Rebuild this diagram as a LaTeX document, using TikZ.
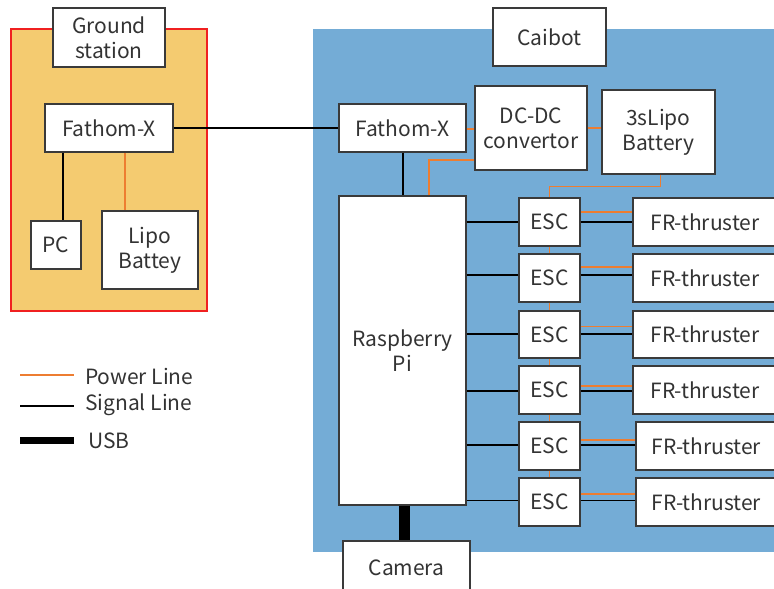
\documentclass[tikz,border=0pt]{standalone}
\usepackage{fontspec}
\setmainfont{Noto Sans CJK JP}
\definecolor{pwrc}{HTML}{ED7D31}
\definecolor{bluefill}{HTML}{74ACD6}
\definecolor{gsfill}{HTML}{F4CB70}
\definecolor{edgec}{HTML}{3A3A3A}
\definecolor{txtc}{HTML}{333333}
\definecolor{gsborder}{HTML}{F02020}
\tikzset{
  box/.style={draw=edgec, line width=1.3pt, fill=white, inner sep=0pt, align=center,
    text=txtc, font=\fontsize{21}{25}\selectfont},
  pwr/.style={draw=pwrc, line width=1.4pt},
  sig/.style={draw=black, line width=1.4pt},
  usb/.style={draw=black, line width=7pt},
  legtext/.style={anchor=west, inner sep=0pt, text=txtc, font=\fontsize{21}{25}\selectfont},
}
\newcommand\bnode[6]{%
  \pgfmathsetmacro\bw{#4-#2}\pgfmathsetmacro\bh{#5-#3}%
  \node[box,minimum width=\bw pt,minimum height=\bh pt] (#1) at ({(#2+#4)/2},{(#3+#5)/2}) {#6};}
\begin{document}
\begin{tikzpicture}[x=1pt,y=-1pt]
\clip (0,0) rectangle (774,589);
\useasboundingbox (0,0) rectangle (774,589);
% ground station area
\node[draw=gsborder, line width=1.2pt, fill=gsfill, minimum width=196pt, minimum height=282pt, inner sep=0pt] (gs) at (109,170) {};
% caibot area
\node[draw=none, fill=bluefill, minimum width=470pt, minimum height=523pt, inner sep=0pt] (cb) at (548,290.5) {};
% labels
\bnode{gslabel}{53}{8}{165}{67}{Ground\\station}
\bnode{cblabel}{493}{8}{606}{66}{Caibot}
% ground station nodes
\bnode{fxl}{45}{104}{173}{152}{Fathom-X}
\bnode{pc}{31}{221}{81}{269}{PC}
\bnode{lipo}{102}{211}{198}{289}{Lipo\\Battey}
% caibot nodes
\bnode{fxr}{339}{104}{466}{152}{Fathom-X}
\bnode{dcdc}{475}{86}{587}{170}{DC-DC\\convertor}
\bnode{bat}{602}{90}{715}{174}{3sLipo\\Battery}
\bnode{rpi}{339}{196}{466}{505}{Raspberry\\Pi}
\bnode{cam}{343}{541}{470}{595}{Camera}
\bnode{esca}{519}{198}{580}{246}{ESC}
\bnode{escb}{519}{254}{580}{302}{ESC}
\bnode{escc}{519}{311}{580}{358}{ESC}
\bnode{escd}{519}{366}{580}{414}{ESC}
\bnode{esce}{519}{422}{580}{470}{ESC}
\bnode{escf}{519}{478}{580}{526}{ESC}
\bnode{fra}{633}{198}{777}{246}{FR-thruster}
\bnode{frb}{633}{254}{777}{302}{FR-thruster}
\bnode{frc}{633}{311}{777}{358}{FR-thruster}
\bnode{frd}{633}{366}{777}{414}{FR-thruster}
\bnode{fre}{636}{422}{777}{470}{FR-thruster}
\bnode{frf}{636}{478}{777}{526}{FR-thruster}
% ground station connectors
\draw[sig] (fxl.east) -- (fxr.west);
\draw[sig] ([xshift=-46pt]fxl.south) -- ([xshift=-46pt]fxl.south |- pc.north);
\draw[pwr] ([xshift=16pt]fxl.south) -- ([xshift=16pt]fxl.south |- lipo.north);
% caibot connectors
\draw[pwr] ([yshift=-1pt]fxr.east) -- ([yshift=-1pt]fxr.east -| dcdc.west);
\draw[pwr] (dcdc.east) -- (dcdc.east -| bat.west);
\draw[pwr] ([yshift=-32pt]dcdc.west) -| ([xshift=26.5pt]rpi.north);
\draw[sig] ([xshift=0.5pt]fxr.south) -- ([xshift=0.5pt]fxr.south |- rpi.north);
\draw[usb, line width=11pt] ([xshift=1.5pt]rpi.south) -- ([xshift=1.5pt]rpi.south |- cam.north);
\draw[pwr] ([xshift=2pt]bat.south) |- ++(0,12) -| (esca.north);
\draw[pwr] (esca.south) -- (escb.north);
\draw[pwr] (escb.south) -- (escc.north);
\draw[pwr] (escc.south) -- (escd.north);
\draw[pwr] (escd.south) -- (esce.north);
\draw[pwr] (esce.south) -- (escf.north);
\foreach \e/\f/\o/\s in {esca/fra/10/0, escb/frb/11/3, escc/frc/8/0.5, escd/frd/4/-1, esce/fre/6/1, escf/frf/8/1.5}{
  \draw[sig] ([yshift=\s pt]\e.west -| rpi.east) -- ([yshift=\s pt]\e.west);
  \draw[sig] ([yshift=\s pt]\e.east) -- ([yshift=\s pt]\e.east -| \f.west);
  \draw[pwr] ([yshift=\o pt]\e.east) -- ([yshift=\o pt]\e.east -| \f.west);
}
% legend
\coordinate (lpa) at (20,375); \coordinate (lpb) at (74,375);
\coordinate (lsa) at (20,406); \coordinate (lsb) at (74,406);
\coordinate (lua) at (20,440); \coordinate (lub) at (74,440);
\draw[pwr] (lpa) -- (lpb);
\draw[sig] (lsa) -- (lsb);
\draw[usb] (lua) -- (lub);
\node[legtext] (lpt) at (85,376) {Power Line};
\node[legtext] (lst) at (85,405) {Signal Line};
\node[legtext] (lut) at (88,441) {USB};
\end{tikzpicture}
\end{document}
